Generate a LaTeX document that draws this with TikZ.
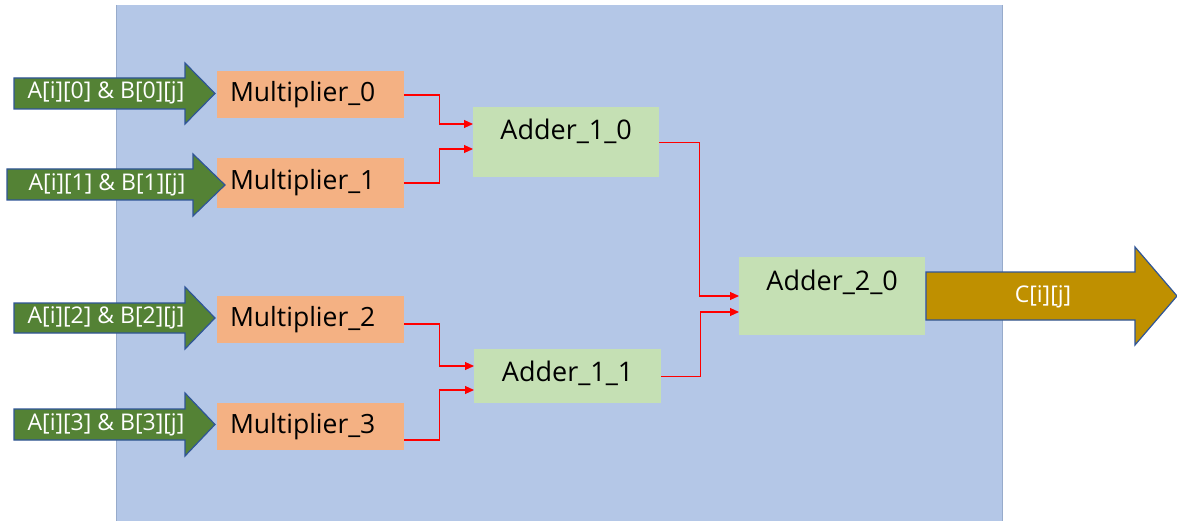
\documentclass[tikz,border=0pt]{standalone}
\usepackage{fontspec}
\setmainfont{Open Sans}
\usetikzlibrary{calc,arrows.meta}
\definecolor{bgblue}{HTML}{B4C7E7}
\definecolor{bgedge}{HTML}{97ABCB}
\definecolor{morange}{HTML}{F4B183}
\definecolor{agreen}{HTML}{C5E0B4}
\definecolor{arrgreen}{HTML}{548235}
\definecolor{arredge}{HTML}{2F5597}
\definecolor{outgold}{HTML}{BF9000}
\definecolor{wirered}{HTML}{FF0000}
\tikzset{
  mulbox/.style={fill=morange, draw=none, minimum width=187pt, minimum height=47pt, anchor=north west, inner sep=0pt},
  multext/.style={font=\fontsize{26.5}{31}\selectfont, inner sep=0pt},
  addbox/.style={fill=agreen, draw=none, minimum width=186pt, anchor=north west, inner sep=0pt},
  addtext/.style={font=\fontsize{27}{32}\selectfont, inner sep=0pt},
  bigarrow/.style={fill=arrgreen, draw=arredge, line width=1.2pt, line join=miter},
  outarrow/.style={fill=outgold, draw=arredge, line width=1.2pt, line join=miter},
  arrtext/.style={text=white, font=\fontsize{23}{27}\selectfont, inner sep=0pt},
  wire/.style={draw=wirered, line width=1.1pt, -{Triangle[length=9pt,width=8pt]}},
}
\begin{document}
\begin{tikzpicture}[x=1pt,y=-1pt]
\useasboundingbox (0,0) rectangle (1177,521);
% background
\fill[bgblue] (116,5) rectangle (1002,525);
\draw[bgedge, line width=0.9pt] (116,5) -- (116,525);
\draw[bgedge, line width=0.9pt] (1002,5) -- (1002,525);

% multipliers
\node[mulbox] (m0) at (217,71) {};
\node[multext] (tm0) at ($(m0.north)+(-8,24)$) {Multiplier\_0};
\node[mulbox, minimum height=50pt] (m1) at (217,158) {};
\node[multext] (tm1) at ($(m1.north)+(-8,25)$) {Multiplier\_1};
\node[mulbox] (m2) at (217,296) {};
\node[multext] (tm2) at ($(m2.north)+(-8,24)$) {Multiplier\_2};
\node[mulbox] (m3) at (217,403) {};
\node[multext] (tm3) at ($(m3.north)+(-8,24)$) {Multiplier\_3};

% adders
\node[addbox, minimum height=70pt] (a10) at (473,107) {};
\node[addtext] (t10) at ($(a10.north)+(0,24)$) {Adder\_1\_0};
\node[addbox, minimum height=54pt, minimum width=187pt] (a11) at (474,349) {};
\node[addtext] (t11) at ($(a11.north)+(0,24)$) {Adder\_1\_1};
\node[addbox, minimum height=78pt] (a20) at (739,257) {};
\node[addtext] (t20) at ($(a20.north)+(0,25)$) {Adder\_2\_0};

% input arrows
\draw[bigarrow] (14,78) -- (185,78) -- (185,63) -- (215,93.5) -- (185,124) -- (185,109) -- (14,109) -- cycle;
\node[arrtext] (i0) at (106,93) {A[i][0] \& B[0][j]};
\draw[bigarrow] (7,169) -- (193,169) -- (193,154) -- (225,185) -- (193,216) -- (193,200) -- (7,200) -- cycle;
\node[arrtext] (i1) at (107,185) {A[i][1] \& B[1][j]};
\draw[bigarrow] (14,303) -- (185,303) -- (185,287) -- (215,318) -- (185,349) -- (185,333) -- (14,333) -- cycle;
\node[arrtext] (i2) at (106,318) {A[i][2] \& B[2][j]};
\draw[bigarrow] (14,409) -- (185,409) -- (185,393) -- (215,424.5) -- (185,456) -- (185,440) -- (14,440) -- cycle;
\node[arrtext] (i3) at (106,425) {A[i][3] \& B[3][j]};

% output arrow
\draw[outarrow] (926,272) -- (1135,272) -- (1135,247) -- (1177,296) -- (1135,345) -- (1135,320) -- (926,320) -- cycle;
\node[arrtext] (out) at (1043,297) {C[i][j]};

% wires
\draw[wire] ($(m0.north east)+(0,24)$) -- ++(35,0) |- ($(a10.north west)+(0,17)$);
\draw[wire] ($(m1.north east)+(0,25)$) -- ++(35,0) |- ($(a10.north west)+(0,42)$);
\draw[wire] ($(m2.north east)+(0,28)$) -- ++(35,0) |- ($(a11.north west)+(0,17)$);
\draw[wire] ($(m3.north east)+(0,37)$) -- ++(35,0) |- ($(a11.north west)+(0,41)$);
\draw[wire] (a10.east) -- ++(40,0) |- ($(a20.north west)+(0,39)$);
\draw[wire] (a11.east) -- ++(39,0) |- ($(a20.north west)+(0,55)$);
\end{tikzpicture}
\end{document}
